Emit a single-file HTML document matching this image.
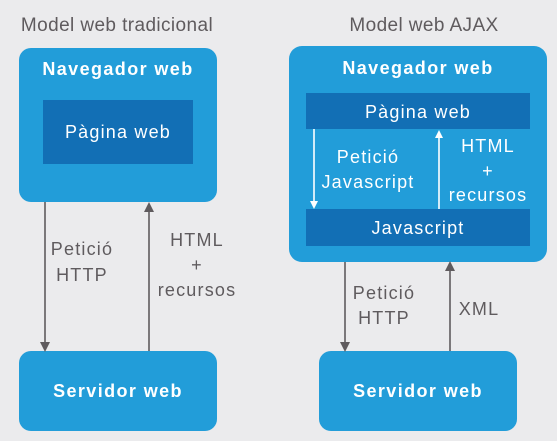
<!DOCTYPE html>
<html><head><meta charset="utf-8"><style>
html,body{margin:0;padding:0;background:#ebebed;}
svg{display:block;font-family:"Liberation Sans",sans-serif;}
.t{font-size:19px;letter-spacing:0.4px;fill:#5f5b5e;}
.b{font-size:18px;font-weight:bold;letter-spacing:1.4px;fill:#fff;}
.w{font-size:18px;letter-spacing:1.2px;fill:#fff;}
.g{font-size:18px;letter-spacing:1.2px;fill:#5f5b5e;}
</style></head><body>
<svg width="557" height="441" viewBox="0 0 557 441">
<rect width="557" height="441" fill="#ebebed"/>
<g text-anchor="middle">
<text class="t" x="117" y="31">Model web tradicional</text>
<text class="t" x="424" y="31">Model web AJAX</text>

<rect x="19" y="48" width="198" height="154" rx="12" fill="#229dd9"/>
<text class="b" x="118" y="75">Navegador web</text>
<rect x="43" y="100" width="150" height="64" fill="#126fb5"/>
<text class="w" x="118" y="138">Pàgina web</text>
<rect x="19" y="351" width="198" height="80" rx="12" fill="#229dd9"/>
<text class="b" x="118" y="397">Servidor web</text>
<line x1="45" y1="202" x2="45" y2="343" stroke="#5f5b5e" stroke-width="1.6"/>
<path d="M40,342 L50,342 L45,352 Z" fill="#5f5b5e"/>
<line x1="149" y1="211" x2="149" y2="351" stroke="#5f5b5e" stroke-width="1.6"/>
<path d="M144,212 L154,212 L149,202 Z" fill="#5f5b5e"/>
<text class="g" x="82" y="255">Petició</text>
<text class="g" x="82" y="281">HTTP</text>
<text class="g" x="197" y="246">HTML</text>
<text class="g" x="197" y="271">+</text>
<text class="g" x="197" y="296">recursos</text>

<rect x="289" y="46" width="258" height="216" rx="13" fill="#229dd9"/>
<text class="b" x="418" y="74">Navegador web</text>
<rect x="306" y="93" width="224" height="36" fill="#126fb5"/>
<text class="w" x="418" y="118">Pàgina web</text>
<rect x="306" y="209" width="224" height="37" fill="#126fb5"/>
<text class="w" x="418" y="234">Javascript</text>
<line x1="314" y1="129" x2="314" y2="202" stroke="#fff" stroke-width="1.6"/>
<path d="M310,201 L318,201 L314,209 Z" fill="#fff"/>
<line x1="439" y1="137" x2="439" y2="209" stroke="#fff" stroke-width="1.6"/>
<path d="M435,138 L443,138 L439,130 Z" fill="#fff"/>
<text class="w" x="368" y="163">Petició</text>
<text class="w" x="368" y="188">Javascript</text>
<text class="w" x="488" y="152">HTML</text>
<text class="w" x="488" y="177">+</text>
<text class="w" x="488" y="201">recursos</text>

<rect x="319" y="351" width="198" height="80" rx="12" fill="#229dd9"/>
<text class="b" x="418" y="397">Servidor web</text>
<line x1="345" y1="262" x2="345" y2="343" stroke="#5f5b5e" stroke-width="1.6"/>
<path d="M340,342 L350,342 L345,352 Z" fill="#5f5b5e"/>
<line x1="450" y1="270" x2="450" y2="351" stroke="#5f5b5e" stroke-width="1.6"/>
<path d="M445,271 L455,271 L450,261 Z" fill="#5f5b5e"/>
<text class="g" x="384" y="299">Petició</text>
<text class="g" x="384" y="324">HTTP</text>
<text class="g" x="479" y="315">XML</text>
</g>
</svg>
</body></html>
